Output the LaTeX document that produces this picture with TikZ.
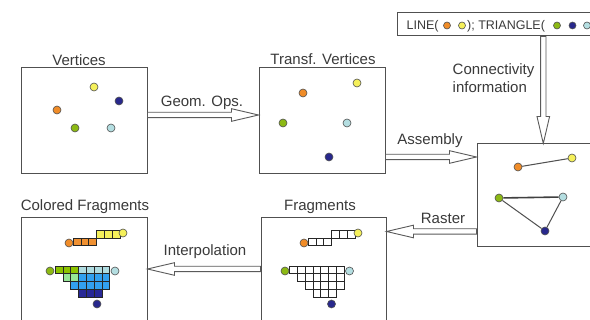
\documentclass[tikz,border=0pt]{standalone}
\usepackage{fontspec}
\setmainfont{Liberation Sans}
\usetikzlibrary{calc}
\definecolor{textc}{RGB}{58,58,58}
\definecolor{linec}{RGB}{80,80,80}
\definecolor{arrc}{RGB}{90,90,90}
\definecolor{dOrange}{RGB}{240,140,40}
\definecolor{dYellow}{RGB}{245,240,90}
\definecolor{dNavy}{RGB}{40,40,140}
\definecolor{dGreen}{RGB}{140,185,20}
\definecolor{dLblue}{RGB}{180,222,225}
\definecolor{cOrange}{RGB}{240,145,50}
\definecolor{cYellow}{RGB}{245,240,90}
\definecolor{cGreen}{RGB}{140,195,0}
\definecolor{cCyan}{RGB}{175,220,225}
\definecolor{cLgreen}{RGB}{150,230,150}
\definecolor{cBlue}{RGB}{50,160,240}
\definecolor{cNavy}{RGB}{40,40,150}
\newcommand\hollowarr[2]{%
  \coordinate (hb) at ($(#2)!27pt!(#1)$);
  \draw[hollow] ($(#1)!2.7pt!90:(#2)$) -- ($(hb)!2.7pt!90:(#2)$) -- ($(hb)!6.3pt!90:(#2)$) -- (#2)
     -- ($(hb)!6.3pt!-90:(#2)$) -- ($(hb)!2.7pt!-90:(#2)$) -- ($(#1)!2.7pt!-90:(#2)$) -- cycle;}
% cell row: #1 x0, #2 y0, #3 count, #4 fill
\newcommand\cellrow[4]{%
  \foreach \k in {1,...,#3} {
    \draw[cell, fill=#4] ({#1+(\k-1)*7.8},#2) rectangle ++(7.8,7.8);
  }}
\tikzset{
  box/.style={draw=linec, line width=1pt, fill=none, inner sep=0, minimum width=#1},
  lbl/.style={font=\fontsize{15}{18}\selectfont, text=textc, inner sep=0, anchor=base},
  small/.style={font=\fontsize{12.5}{15}\selectfont, text=textc, inner sep=0, anchor=base west},
  dot/.style={circle, draw=linec, line width=0.6pt, fill=#1, inner sep=0, minimum size=8pt},
  hollow/.style={draw=arrc, line width=0.9pt, fill=white, line join=miter},
  cell/.style={draw=black!85, line width=0.6pt},
  edge/.style={draw=linec, line width=1pt},
}
\begin{document}
\begin{tikzpicture}[x=1pt,y=-1pt]
\useasboundingbox (0,0) rectangle (590,320);
\clip (0,0) rectangle (590,320);
\fill[white] (0,0) rectangle (590,320);

% boxes
\node[box=126pt, minimum height=106pt] (v) at (84,121) {};
\node[box=126pt, minimum height=106pt] (tv) at (322,121) {};
\node[box=123pt, minimum height=103pt] (as) at (538.5,195.5) {};
\node[box=203pt, minimum height=23pt] (tb) at (498.5,24.5) {};
\node[box=125pt, minimum height=112pt] (fr) at (323.5,274) {};
\node[box=126pt, minimum height=112pt] (cf) at (84,274) {};

% labels
\node[lbl] (lv) at (79,66) {Vertices};
\node[lbl] (ltv) at (323,65) {Transf. Vertices};
\node[lbl] (lgo) at (202,106.5) {Geom. Ops.};
\node[font=\fontsize{15}{18}\selectfont, text=textc, inner sep=0, anchor=north west, align=left] (lci) at (452.5,63) {Connectivity\\information};
\node[lbl] (las) at (430,145) {Assembly};
\node[lbl] (lra) at (443,224) {Raster};
\node[lbl] (lfr) at (320,211) {Fragments};
\node[lbl] (lcf) at (85,211) {Colored Fragments};
\node[lbl] (lin) at (205,256) {Interpolation};

% top box content
\node[small] (t1) at (406.5,30) {LINE(};
\node[dot=dOrange, minimum size=7pt] (to) at (447,25.5) {};
\node[dot=dYellow, minimum size=7pt] (ty) at (462,25.5) {};
\node[small] (t2) at (467,30) {); TRIANGLE(};
\node[dot=dGreen, minimum size=7pt] (tg) at (557,25.5) {};
\node[dot=dNavy, minimum size=7pt] (tn) at (572.5,25.5) {};
\node[dot=dLblue, minimum size=7pt] (tl) at (587,25.5) {};

% arrows
\coordinate (gy) at (0,115);
\coordinate (ay) at (0,157);
\coordinate (cx) at (543.3,0);
\coordinate (ry) at (0,231.5);
\coordinate (iy) at (0,269);
\hollowarr{v.east |- gy}{tv.west |- gy}
\hollowarr{tv.east |- ay}{as.west |- ay}
\hollowarr{tb.south -| cx}{as.north -| cx}
\hollowarr{as.west |- ry}{fr.east |- ry}
\hollowarr{fr.west |- iy}{cf.east |- iy}

% vertices
\node[dot=dYellow] (v1) at (94,87) {};
\node[dot=dNavy] (v2) at (119,101) {};
\node[dot=dOrange] (v3) at (57,110) {};
\node[dot=dGreen] (v4) at (75,128) {};
\node[dot=dLblue] (v5) at (111,128) {};

% transformed vertices
\node[dot=dOrange] (w1) at (303,93) {};
\node[dot=dYellow] (w2) at (357,83) {};
\node[dot=dGreen] (w3) at (283,123) {};
\node[dot=dLblue] (w4) at (347,123) {};
\node[dot=dNavy] (w5) at (329,157) {};

% assembled primitives
\node[dot=dOrange] (a1) at (518,167) {};
\node[dot=dYellow] (a2) at (572,158) {};
\node[dot=dGreen] (a3) at (499,198) {};
\node[dot=dLblue] (a4) at (563,197) {};
\node[dot=dNavy] (a5) at (545,231) {};
\draw[edge] (a1) -- (a2);
\draw[edge, line width=1.6pt, draw=black!75] (a3) -- (a4);
\draw[edge] (a3) -- (a5);
\draw[edge] (a4) -- (a5);

% fragments (white)
\cellrow{308}{238}{3}{white}
\cellrow{331.4}{230.2}{3}{white}
\cellrow{289.5}{266}{7}{white}
\cellrow{297.3}{273.8}{6}{white}
\cellrow{305.1}{281.6}{5}{white}
\cellrow{312.9}{289.4}{3}{white}
\node[dot=dOrange] (f1) at (304,243) {};
\node[dot=dYellow] (f2) at (358,233) {};
\node[dot=dGreen] (f3) at (285,271) {};
\node[dot=dLblue] (f4) at (349.5,271) {};
\node[dot=dNavy] (f5) at (331.5,304) {};

% colored fragments
\cellrow{73}{238}{3}{cOrange}
\cellrow{96.4}{230.2}{3}{cYellow}
\cellrow{55}{266}{3}{cGreen}
\cellrow{78.4}{266}{4}{cCyan}
\cellrow{62.8}{273.8}{2}{cLgreen}
\cellrow{78.4}{273.8}{4}{cBlue}
\cellrow{70.6}{281.6}{5}{cBlue}
\cellrow{78.4}{289.4}{3}{cNavy}
\node[dot=dOrange] (c1) at (69,243) {};
\node[dot=dYellow] (c2) at (123,233) {};
\node[dot=dGreen] (c3) at (50,271) {};
\node[dot=dLblue] (c4) at (115,271) {};
\node[dot=dNavy] (c5) at (97,304) {};
\end{tikzpicture}
\end{document}
